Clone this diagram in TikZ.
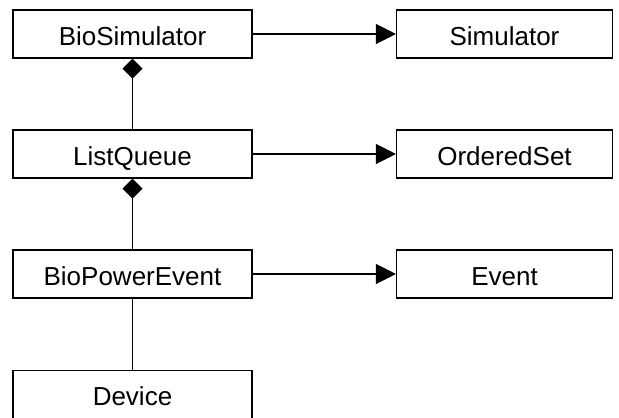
\documentclass[tikz,border=0pt]{standalone}
\usepackage{fontspec}
\setmainfont{Liberation Sans}
\usetikzlibrary{arrows.meta}
\begin{document}
\begin{tikzpicture}[x=1pt,y=-1pt,
  cls/.style={draw=black,line width=1.1pt,fill=white,rectangle,minimum height=48pt,inner sep=0pt,text height=22.6pt,text depth=0pt,font=\fontsize{26pt}{30pt}\selectfont},
  leftcls/.style={cls,minimum width=239pt},
  rightcls/.style={cls,minimum width=216pt},
  conn/.style={line width=1.1pt},
  gen/.style={conn,-{Triangle[length=20pt,width=20pt]}},
  comp/.style={conn,-{Diamond[length=20pt,width=20pt]}}]
\useasboundingbox (0,0) rectangle (619,418);
\node[leftcls] (bs) at (132.5,34) {BioSimulator};
\node[leftcls] (lq) at (132.5,154) {ListQueue};
\node[leftcls] (bp) at (132.5,274) {BioPowerEvent};
\node[leftcls] (dev) at (132.5,394.5) {Device};
\node[rightcls] (sim) at (504.5,34) {Simulator};
\node[rightcls] (os) at (504.5,154) {OrderedSet};
\node[rightcls] (ev) at (504.5,274) {Event};
\draw[gen] (bs) -- (sim);
\draw[gen] (lq) -- (os);
\draw[gen] (bp) -- (ev);
\draw[comp] (lq.north) -- (bs.south);
\draw[comp] (bp.north) -- (lq.south);
\draw[conn] (bp.south) -- (dev.north);
\end{tikzpicture}
\end{document}
